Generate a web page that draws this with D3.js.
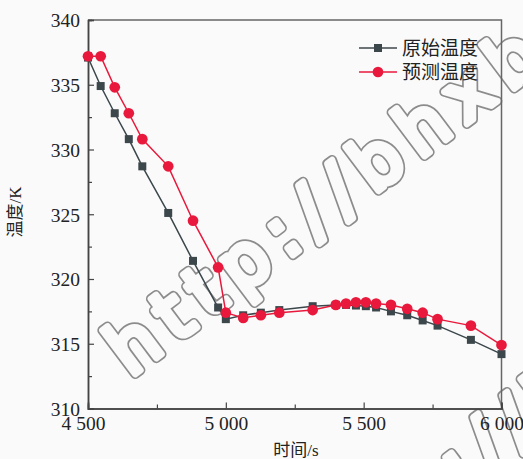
<!DOCTYPE html>
<html>
<head>
<meta charset="utf-8">
<script src="https://cdn.jsdelivr.net/npm/d3@7"></script>
<style>
  body { margin: 0; background: #fafafa; }
  svg text { font-family: "Liberation Serif", "Noto Sans CJK SC", serif; fill: #222; }
</style>
</head>
<body>
<div id="chart"></div>
<script>
// data
var times = [4500, 4546, 4597, 4648, 4697, 4791, 4881, 4972, 5000, 5063, 5127, 5194,
             5315, 5399, 5436, 5472, 5508, 5545, 5599, 5658, 5714, 5768, 5889, 6000];
var original = [337.1, 334.9, 332.8, 330.8, 328.7, 325.1, 321.4, 317.8, 316.9, 317.2, 317.4, 317.6,
                317.9, 318.0, 318.0, 317.95, 317.9, 317.8, 317.5, 317.2, 316.8, 316.4, 315.3, 314.2];
var predicted = [337.2, 337.2, 334.8, 332.8, 330.8, 328.7, 324.5, 320.9, 317.4, 317.0, 317.2, 317.4,
                 317.6, 318.0, 318.1, 318.2, 318.2, 318.1, 318.0, 317.7, 317.4, 316.9, 316.4, 314.9];
var seriesNames = ["原始温度", "预测温度"];
var xTicks = [4500, 5000, 5500, 6000];
var xMinor = [4750, 5250, 5750];
var yTicks = [310, 315, 320, 325, 330, 335, 340];
var yMinor = [312.5, 317.5, 322.5, 327.5, 332.5, 337.5];
var watermark = "http://bhxb.buaa.edu.cn";

var width = 523, height = 459;
var margin = {top: 20, right: 21.5, bottom: 50.5, left: 88};

var svg = d3.select("#chart").append("svg")
    .attr("width", width)
    .attr("height", height);

var x = d3.scaleLinear().domain([4500, 6000]).range([margin.left, width - margin.right]);
var y = d3.scaleLinear().domain([310, 340]).range([height - margin.bottom, margin.top]);

var fmt = d3.formatLocale({decimal: ".", thousands: " ", grouping: [3], currency: ["", ""]}).format(",");

var axisColor = "#444";

// watermark: thick rounded letters shown as outlines, drawn first so the data sits on top
[[130, 378], [305, 610]].forEach(function(p) {
  [["#8c8c8c", 10], ["#fafafa", 6.5]].forEach(function(st) {
    svg.append("text")
        .attr("transform", "translate(" + p[0] + "," + p[1] + ") rotate(-37)")
        .style("font-family", "'DejaVu Sans', sans-serif")
        .style("font-size", "72px")
        .style("letter-spacing", "12px")
        .style("fill", st[0] == "#fafafa" ? "#fafafa" : "none")
        .style("stroke", st[0])
        .style("stroke-width", st[1])
        .style("stroke-linejoin", "round")
        .style("stroke-linecap", "round")
        .text(watermark);
  });
});

// frame top & right
svg.append("path")
    .attr("d", "M" + x(4500) + "," + y(340) + "H" + x(6000) + "V" + y(310))
    .attr("fill", "none")
    .attr("stroke", "#666")
    .attr("stroke-width", 1.5);

var gx = svg.append("g")
    .attr("transform", "translate(0," + y(310) + ")")
    .call(d3.axisBottom(x).tickValues(xTicks).tickFormat(fmt).tickSize(-6).tickPadding(8));
svg.append("g")
    .attr("transform", "translate(0," + y(310) + ")")
    .call(d3.axisBottom(x).tickValues(xMinor).tickFormat("").tickSize(-4));

var gy = svg.append("g")
    .attr("transform", "translate(" + x(4500) + ",0)")
    .call(d3.axisLeft(y).tickValues(yTicks).tickSize(-6).tickPadding(8));
svg.append("g")
    .attr("transform", "translate(" + x(4500) + ",0)")
    .call(d3.axisLeft(y).tickValues(yMinor).tickFormat("").tickSize(-4));

svg.selectAll(".domain").attr("stroke", axisColor).attr("stroke-width", 1.5);
svg.selectAll(".tick line").attr("stroke", axisColor).attr("stroke-width", 1.2);
svg.selectAll(".tick text")
    .style("font-family", "'Liberation Serif', serif")
    .style("font-size", "19.5px")
    .attr("fill", "#222");
gy.selectAll(".tick text").attr("dy", "0.35em");
// first x label sits a little left, as in the original
gx.selectAll(".tick text").filter(function(d) { return d == 4500; }).attr("dx", "-5");

// axis titles
svg.append("text")
    .attr("x", 296)
    .attr("y", 456)
    .attr("text-anchor", "middle")
    .style("font-size", "17px")
    .text("时间/s");

svg.append("text")
    .attr("transform", "translate(21,212) rotate(-90)")
    .attr("text-anchor", "middle")
    .style("font-size", "17px")
    .text("温度/K");

// series
var series = [
  {name: seriesNames[0], values: original, color: "#3c474c", shape: "square"},
  {name: seriesNames[1], values: predicted, color: "#e8193c", shape: "circle"}
];

var line = d3.line()
    .x(function(d) { return x(d[0]); })
    .y(function(d) { return y(d[1]); });

var plot = svg.append("g");

series.forEach(function(s) {
  var pts = times.map(function(t, i) { return [t, s.values[i]]; });
  plot.append("path")
      .datum(pts)
      .attr("fill", "none")
      .attr("stroke", s.color)
      .attr("stroke-width", 1.5)
      .attr("d", line);
});

function marker(s) {
  return d3.symbol().type(s.shape == "square" ? d3.symbolSquare : d3.symbolCircle)
      .size(s.shape == "square" ? 64 : 90);
}

series.forEach(function(s) {
  var pts = times.map(function(t, i) { return [t, s.values[i]]; });
  plot.selectAll(null)
      .data(pts)
      .enter().append("path")
      .attr("transform", function(d) { return "translate(" + x(d[0]) + "," + y(d[1]) + ")"; })
      .attr("d", marker(s))
      .attr("fill", s.color);
});

// legend
var legend = svg.append("g");
series.forEach(function(s, i) {
  var ly = 48 + i * 24;
  legend.append("line")
      .attr("x1", 359).attr("x2", 397)
      .attr("y1", ly).attr("y2", ly)
      .attr("stroke", s.color)
      .attr("stroke-width", 1.5);
  legend.append("path")
      .attr("transform", "translate(378," + ly + ")")
      .attr("d", marker(s))
      .attr("fill", s.color);
  legend.append("text")
      .attr("x", 402)
      .attr("y", ly)
      .attr("dy", "0.36em")
      .style("font-size", "19px")
      .text(s.name);
});
</script>
</body>
</html>
